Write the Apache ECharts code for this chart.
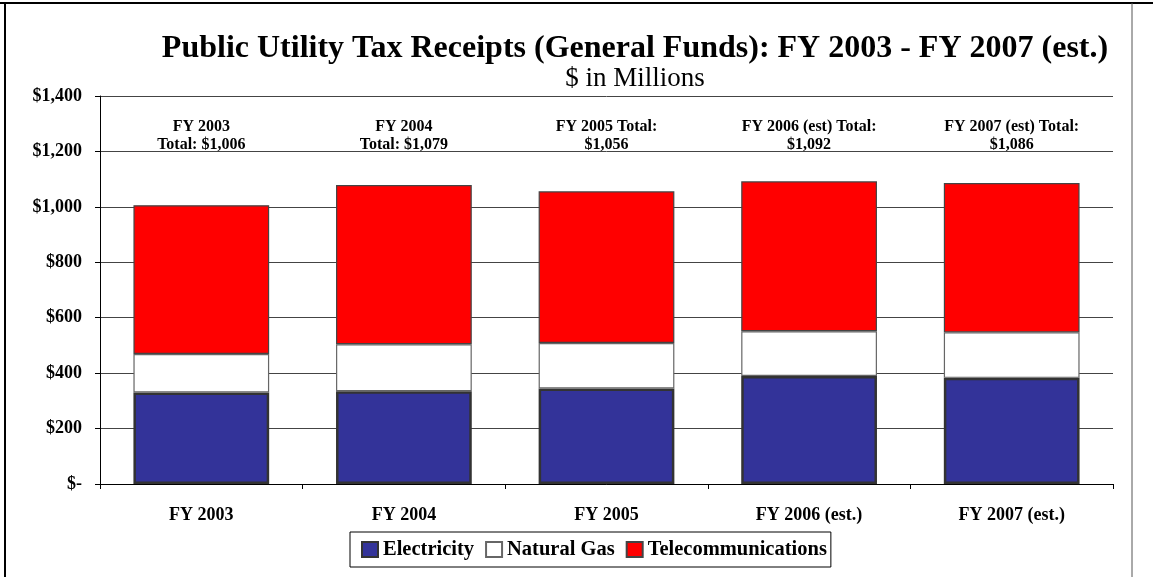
<!DOCTYPE html>
<html>
<head>
<meta charset="utf-8">
<title>Public Utility Tax Receipts</title>
<script src="https://cdn.jsdelivr.net/npm/echarts@6/dist/echarts.min.js"></script>
<style>
  html, body { margin: 0; padding: 0; background: #fff; }
  #chart { width: 1153px; height: 577px; }
</style>
</head>
<body>
<div id="chart"></div>
<script>
// Fiscal years on the category axis
const categories = ['FY 2003', 'FY 2004', 'FY 2005', 'FY 2006 (est.)', 'FY 2007 (est.)'];

// Receipts by source, $ in millions
const electricity = [330, 335, 345, 390, 383];
const naturalGas = [139, 169, 164, 161, 164];
const telecommunications = [537, 575, 547, 541, 539];

// Stated totals and their annotation text
const totals = [1006, 1079, 1056, 1092, 1086];
const totalLabels = [
  'FY 2003\nTotal: $1,006',
  'FY 2004\nTotal: $1,079',
  'FY 2005 Total:\n$1,056',
  'FY 2006 (est) Total:\n$1,092',
  'FY 2007 (est) Total:\n$1,086'
];

const FONT = '"Liberation Serif", "Times New Roman", serif';

function money(v) {
  if (v === 0) return '$-';
  return '$' + v.toLocaleString('en-US');
}

const chart = echarts.init(document.getElementById('chart'), null, { renderer: 'canvas' });

chart.setOption({
  backgroundColor: '#fff',
  animation: false,
  textStyle: { fontFamily: FONT },
  title: {
    text: 'Public Utility Tax Receipts (General Funds): FY 2003 - FY 2007 (est.)',
    subtext: '$ in Millions',
    left: 630,
    textAlign: 'center',
    top: 28,
    itemGap: 0,
    textStyle: { fontFamily: FONT, fontSize: 32, fontWeight: 'bold', color: '#000' },
    subtextStyle: { fontFamily: FONT, fontSize: 27, color: '#000' }
  },
  legend: {
    data: ['Electricity', 'Natural Gas', 'Telecommunications'],
    left: 350,
    top: 532,
    padding: [7, 4, 7, 11],
    itemGap: 11,
    itemWidth: 16,
    itemHeight: 15,
    icon: 'rect',
    borderColor: '#000',
    borderWidth: 1,
    textStyle: { fontFamily: FONT, fontSize: 20.5, fontWeight: 'bold', color: '#000' }
  },
  grid: { left: 100, right: 40, top: 96, bottom: 93, containLabel: false },
  xAxis: [
    {
      type: 'category',
      data: categories,
      axisLine: { lineStyle: { color: '#000', width: 1 } },
      axisTick: { show: true, inside: false, length: 5, lineStyle: { color: '#000' } },
      axisLabel: { margin: 22, fontFamily: FONT, fontSize: 18, fontWeight: 'bold', color: '#000' }
    },
    {
      // Top axis carries the per-year total annotations
      type: 'category',
      position: 'top',
      data: categories,
      axisLine: { show: false },
      axisTick: { show: false },
      axisLabel: {
        inside: true,
        margin: 22,
        fontFamily: FONT,
        fontSize: 16,
        fontWeight: 'bold',
        color: '#000',
        lineHeight: 18,
        formatter: (v, i) => totalLabels[i]
      }
    }
  ],
  yAxis: {
    type: 'value',
    min: 0,
    max: 1400,
    interval: 200,
    axisLine: { show: true, lineStyle: { color: '#000', width: 1 } },
    axisTick: { show: true, inside: false, length: 5, lineStyle: { color: '#000' } },
    splitLine: { show: true, lineStyle: { color: '#444', width: 1 } },
    axisLabel: {
      margin: 18,
      fontFamily: FONT,
      fontSize: 18,
      fontWeight: 'bold',
      color: '#000',
      formatter: money
    }
  },
  series: [
    {
      name: 'Electricity',
      type: 'bar',
      stack: 'total',
      data: electricity,
      barCategoryGap: '33%',
      itemStyle: { color: '#333399', borderColor: '#333', borderWidth: 2.5 }
    },
    {
      name: 'Natural Gas',
      type: 'bar',
      stack: 'total',
      data: naturalGas,
      itemStyle: { color: '#ffffff', borderColor: '#666', borderWidth: 1.2 }
    },
    {
      name: 'Telecommunications',
      type: 'bar',
      stack: 'total',
      data: telecommunications,
      itemStyle: { color: '#ff0000', borderColor: '#444', borderWidth: 1.2 }
    }
  ],
  graphic: [
    // Outer frame: top edge, left edge and right edge
    { type: 'line', shape: { x1: 0, y1: 3, x2: 1153, y2: 3 }, style: { stroke: '#000', lineWidth: 2 } },
    { type: 'line', shape: { x1: 5, y1: 3, x2: 5, y2: 577 }, style: { stroke: '#000', lineWidth: 2 } },
    { type: 'line', shape: { x1: 1132, y1: 3, x2: 1132, y2: 577 }, style: { stroke: '#555', lineWidth: 1 } }
  ]
});
</script>
</body>
</html>
